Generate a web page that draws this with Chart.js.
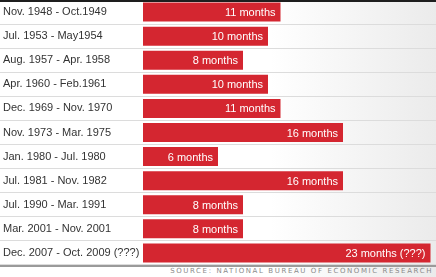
<!DOCTYPE html>
<html>
<head>
<meta charset="utf-8">
<script src="https://cdn.jsdelivr.net/npm/chart.js@4"></script>
<style>
  body { margin: 0; }
  #wrap { position: relative; width: 436px; height: 277px; overflow: hidden;
          background: linear-gradient(to right, #fff 62%, #ebebeb 100%); }
  #chartBox { position: absolute; left: 0; top: 0; width: 436px; height: 265px; }
  #topline { position: absolute; left: 0; top: 0; width: 436px; height: 2px; background: #1e1e1e; }
  #bottomline { position: absolute; left: 0; top: 265px; width: 436px; height: 2px; background: #9a9a9a; }
  #source { position: absolute; right: 3px; top: 267px; font: 7px "DejaVu Sans", sans-serif;
            letter-spacing: 1.6px; color: #8a8a8a; white-space: nowrap; }
</style>
</head>
<body>
<div id="wrap">
  <div id="chartBox"><canvas id="recessionChart" width="436" height="265"></canvas></div>
  <div id="topline"></div>
  <div id="bottomline"></div>
  <div id="source">SOURCE: NATIONAL BUREAU OF ECONOMIC RESEARCH</div>
</div>
<script>
// Các cuộc suy thoái (NBER)
var periods = ['Nov. 1948 - Oct.1949', 'Jul. 1953 - May1954', 'Aug. 1957 - Apr. 1958',
    'Apr. 1960 - Feb.1961', 'Dec. 1969 - Nov. 1970', 'Nov. 1973 - Mar. 1975',
    'Jan. 1980 - Jul. 1980', 'Jul. 1981 - Nov. 1982', 'Jul. 1990 - Mar. 1991',
    'Mar. 2001 - Nov. 2001', 'Dec. 2007 - Oct. 2009 (???)'];
var months = [11, 10, 8, 10, 11, 16, 6, 16, 8, 8, 23];
var barTexts = ['11 months', '10 months', '8 months', '10 months', '11 months', '16 months',
    '6 months', '16 months', '8 months', '8 months', '23 months (???)'];

var labelFont = '"Liberation Sans", Arial, sans-serif';

// Vẽ chữ bên trong thanh
var barTextPlugin = {
    id: 'barText',
    afterDatasetsDraw: function (chart) {
        var ctx = chart.ctx;
        var meta = chart.getDatasetMeta(0);
        ctx.save();
        ctx.font = '11px ' + labelFont;
        ctx.fillStyle = '#fff';
        ctx.textAlign = 'right';
        ctx.textBaseline = 'middle';
        meta.data.forEach(function (bar, i) {
            ctx.fillText(barTexts[i], bar.x - 5, bar.y + 1);
        });
        ctx.restore();
    }
};

var ctx = document.getElementById('recessionChart').getContext('2d');
var recessionChart = new Chart(ctx, {
    type: 'bar',
    data: {
        labels: periods,
        datasets: [{
            data: months,
            backgroundColor: '#d42630',
            borderWidth: 0,
            categoryPercentage: 1,
            barPercentage: 0.79
        }]
    },
    options: {
        indexAxis: 'y',
        responsive: false,
        animation: false,
        devicePixelRatio: 1,
        layout: { padding: { left: 3, right: 0, top: 0, bottom: 0 } },
        plugins: { legend: { display: false }, tooltip: { enabled: false } },
        scales: {
            x: { min: 0, max: 23.44, display: false },
            y: {
                afterFit: function (scale) { scale.width = 140; },
                border: { display: false },
                grid: {
                    offset: true,
                    color: '#dcdcdc',
                    lineWidth: 1,
                    drawTicks: true,
                    tickLength: 143,
                    tickColor: '#dcdcdc'
                },
                ticks: {
                    crossAlign: 'far',
                    padding: 0,
                    color: '#333',
                    // lineHeight nhỏ để trục không thêm khoảng đệm trên/dưới
                    font: { family: labelFont, size: 11, lineHeight: 0.01 }
                }
            }
        }
    },
    plugins: [barTextPlugin]
});
</script>
</body>
</html>
